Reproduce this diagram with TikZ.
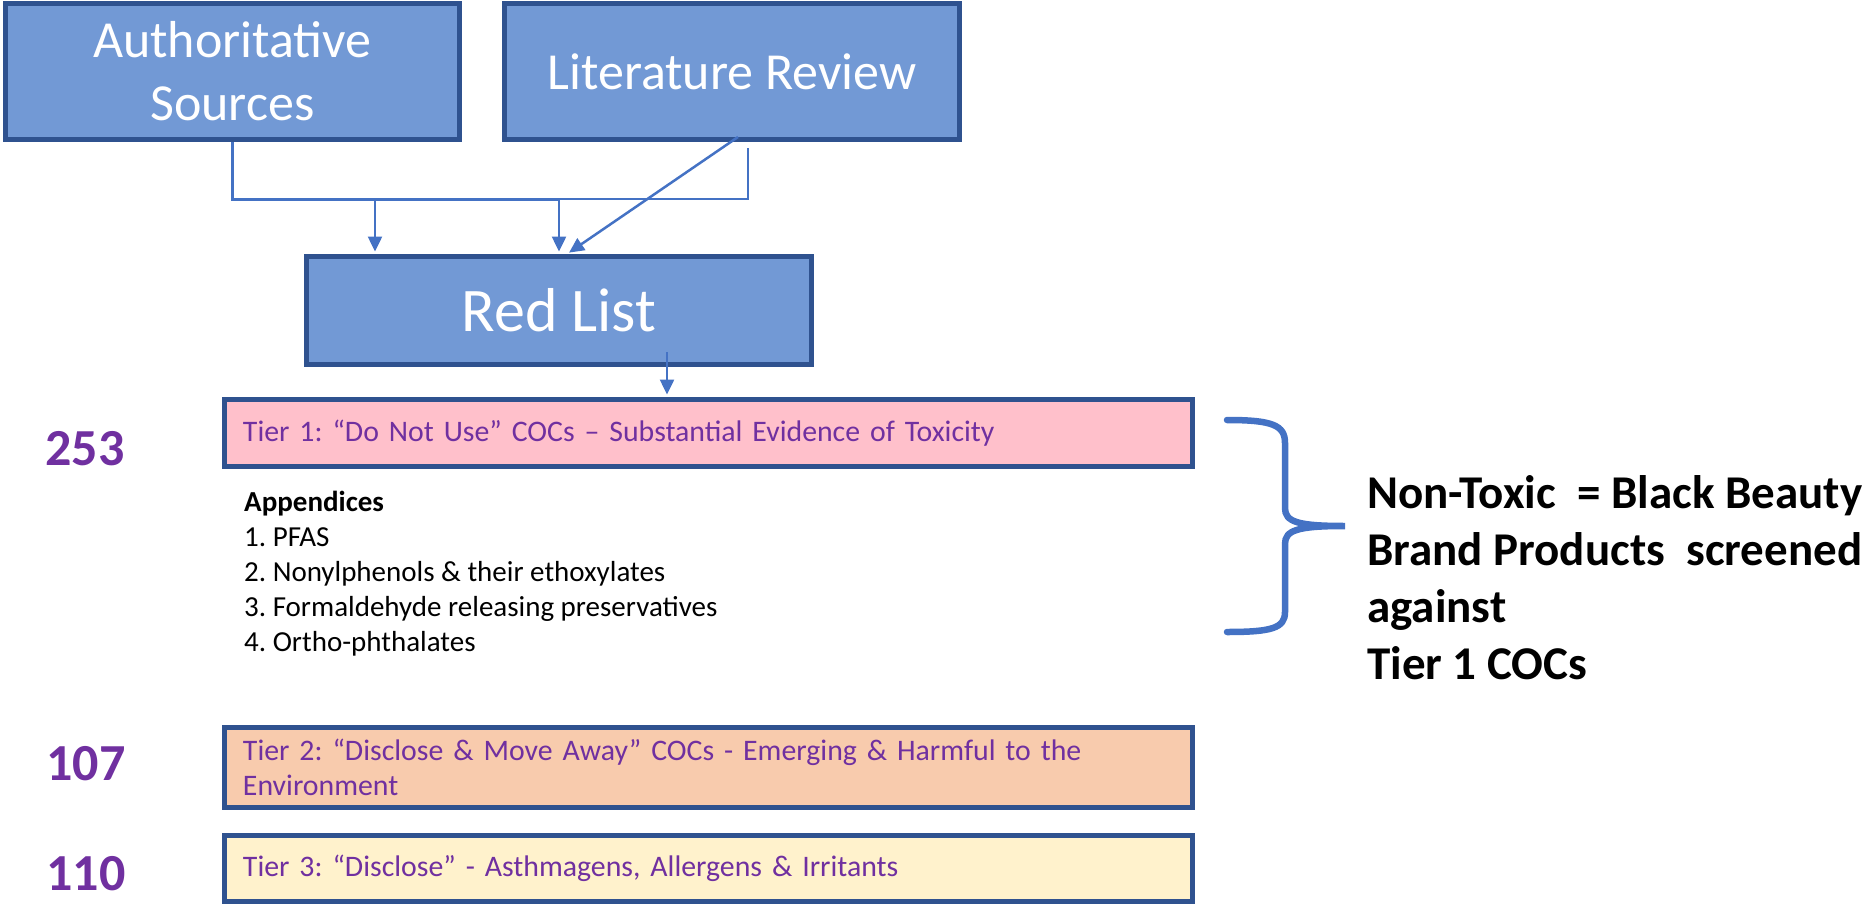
\documentclass[tikz,border=0pt]{standalone}
\usepackage{fontspec}
\setmainfont{Carlito}
\usetikzlibrary{arrows.meta,calc}
\definecolor{boxblue}{HTML}{7299D5}
\definecolor{boxedge}{HTML}{2F528F}
\definecolor{linkblue}{HTML}{4472C4}
\definecolor{purp}{HTML}{7030A0}
\definecolor{tierA}{HTML}{FFC0CB}
\definecolor{tierB}{HTML}{F8CBAD}
\definecolor{tierC}{HTML}{FFF2CC}
\frenchspacing
\begin{document}
\begin{tikzpicture}[x=1bp,y=-1bp,
  srcbox/.style={draw=boxedge, fill=boxblue, line width=5bp, text=white, align=center, inner sep=0pt},
  tierbox/.style={draw=boxedge, line width=5bp, text=purp, align=left, minimum width=968bp, text width=931bp, inner xsep=18.5bp, inner ysep=0pt, font=\fontsize{29.8bp}{35bp}\selectfont},
  link/.style={draw=linkblue, line width=2.5bp, -{Triangle[length=15bp,width=14bp]}},
  count/.style={text=purp, font=\bfseries\fontsize{52bp}{62bp}\selectfont, inner sep=0pt},
  plaintext/.style={inner sep=0pt, align=left, anchor=north west}
]
\useasboundingbox (0,0) rectangle (1874,905);

% source boxes
\node[srcbox, minimum width=454bp, minimum height=136bp, font=\fontsize{52bp}{63bp}\selectfont] (auth) at (232.5,71.5) {Authoritative\\Sources};
\node[srcbox, minimum width=455bp, minimum height=136bp, font=\fontsize{52bp}{63bp}\selectfont] (lit) at (732,71.5) {Literature Review};
\node[srcbox, minimum width=505bp, minimum height=108bp, font=\fontsize{62bp}{74bp}\selectfont] (red) at (559,310.5) {Red List};

% tiers
\node[tierbox, fill=tierA, minimum height=67bp] (t1) at (708.5,433) {Tier 1: “Do Not Use” COCs – Substantial Evidence of Toxicity};
\node[tierbox, fill=tierB, minimum height=80bp] (t2) at (708.5,767.5) {Tier 2: “Disclose \& Move Away” COCs - Emerging \& Harmful to the\\Environment};
\node[tierbox, fill=tierC, minimum height=66bp] (t3) at (708.5,868.5) {Tier 3: “Disclose” - Asthmagens, Allergens \& Irritants};

% counts
\node[count] (n1) at (85,448.5) {253};
\node[count] (n2) at (86,763.5) {107};
\node[count] (n3) at (86,873.5) {110};

% appendices
\node[plaintext, font=\fontsize{29bp}{35bp}\selectfont] (app) at (244,491) {\textbf{Appendices}\\1. PFAS\\2. Nonylphenols \& their ethoxylates\\3. Formaldehyde releasing preservatives\\4. Ortho-phthalates};

% right note
\node[plaintext, font=\bfseries\fontsize{47bp}{57bp}\selectfont] (note) at (1367,475) {Non-Toxic~~= Black Beauty\\Brand Products~~screened\\against\\Tier 1 COCs};

% connectors
\coordinate (litfoot) at (748,148);
\coordinate (litdiag) at (738,137);
\coordinate (redout) at (667,352);
\draw[link, shorten >=2.5bp] (auth.south) -- ++(0,57.5) -| (red.north);
\draw[link, shorten >=2.5bp] (litfoot) -- (748,199) -| (375,0 |- red.north);
\draw[link, shorten >=2.5bp] (litdiag) -- (567,0 |- red.north);
\draw[link, shorten >=2.5bp] (redout) -- (667,0 |- t1.north);

% brace
\draw[linkblue, line width=6.5bp, line cap=round]
  (1227,420) .. controls (1272,420) and (1285,425) .. (1285,443)
  -- (1285,508) .. controls (1285,522) and (1298,526) .. (1345,526)
  .. controls (1298,526) and (1285,530) .. (1285,544)
  -- (1285,612) .. controls (1285,628) and (1272,632) .. (1227,632);
\end{tikzpicture}
\end{document}
